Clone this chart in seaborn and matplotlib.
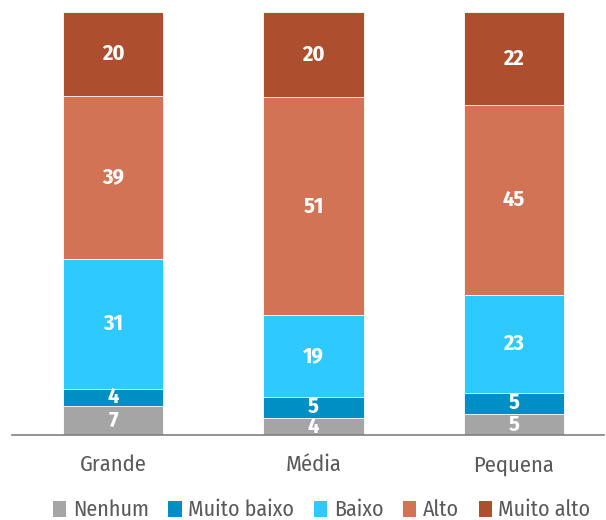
"""Stacked share chart by company size (Grande / Média / Pequena)."""
import matplotlib
matplotlib.use("Agg")
import matplotlib.pyplot as plt
from matplotlib.patches import Patch
import numpy as np
import pandas as pd
import seaborn as sns

CATEGORIES = ["Grande", "Média", "Pequena"]
LEVELS = ["Nenhum", "Muito baixo", "Baixo", "Alto", "Muito alto"]

nenhum = [7, 4, 5]
muito_baixo = [4, 5, 5]
baixo = [31, 19, 23]
alto = [39, 51, 45]
muito_alto = [20, 20, 22]

COLORS = ["#A5A5A5", "#008FC4", "#2EC9FF", "#D27356", "#AD4E2F"]
TEXT_GREY = "#595959"

sns.set_theme(style="white")
plt.rcParams["font.family"] = ["Fira Sans Condensed", "Barlow Condensed", "DejaVu Sans"]

series = [nenhum, muito_baixo, baixo, alto, muito_alto]
raw = np.array(series, dtype=float)
share = raw / raw.sum(axis=0) * 100  # columns drawn as 100%
cum = share.cumsum(axis=0)

fig = plt.figure(figsize=(6.06, 5.2), dpi=100)
ax = fig.add_axes([12 / 606, 85 / 520, 592 / 606, 423 / 520])

# overplot cumulative totals, tallest first -> stacked columns
for i in reversed(range(len(LEVELS))):
    df = pd.DataFrame({"cat": CATEGORIES, "val": cum[i]})
    sns.barplot(data=df, x="cat", y="val", color=COLORS[i], width=0.5,
                saturation=1, edgecolor="white", linewidth=0.6, ax=ax)

for i in range(len(LEVELS)):
    for j in range(len(CATEGORIES)):
        y = cum[i, j] - share[i, j] / 2
        ax.text(j, y, str(series[i][j]), ha="center", va="center",
                color="white", fontsize=16, fontweight="bold")

ax.set_ylim(0, 100)
ax.set_xlim(-0.505, 2.45)
ax.set_xlabel("")
ax.set_ylabel("")
ax.set_yticks([])
for side in ("left", "top", "right"):
    ax.spines[side].set_visible(False)
ax.spines["bottom"].set_color("#7F7F7F")
ax.spines["bottom"].set_linewidth(1.2)
ax.tick_params(axis="x", which="major", length=0, pad=14,
               labelsize=16.2, labelcolor=TEXT_GREY)
ax.set_xticks([-0.5, 0.36, 1.22], minor=True)
ax.tick_params(axis="x", which="minor", length=6, width=1.2,
               color="#7F7F7F", direction="out")

handles = [Patch(facecolor=c, edgecolor="none") for c in COLORS]
fig.legend(handles, LEVELS, loc="center", bbox_to_anchor=(0.531, 0.019),
           ncol=5, frameon=False, fontsize=15.8, labelcolor=TEXT_GREY,
           handlelength=0.6, handleheight=0.75, handletextpad=0.3,
           columnspacing=0.9, borderpad=0)

fig.savefig("out.png", dpi=100)
